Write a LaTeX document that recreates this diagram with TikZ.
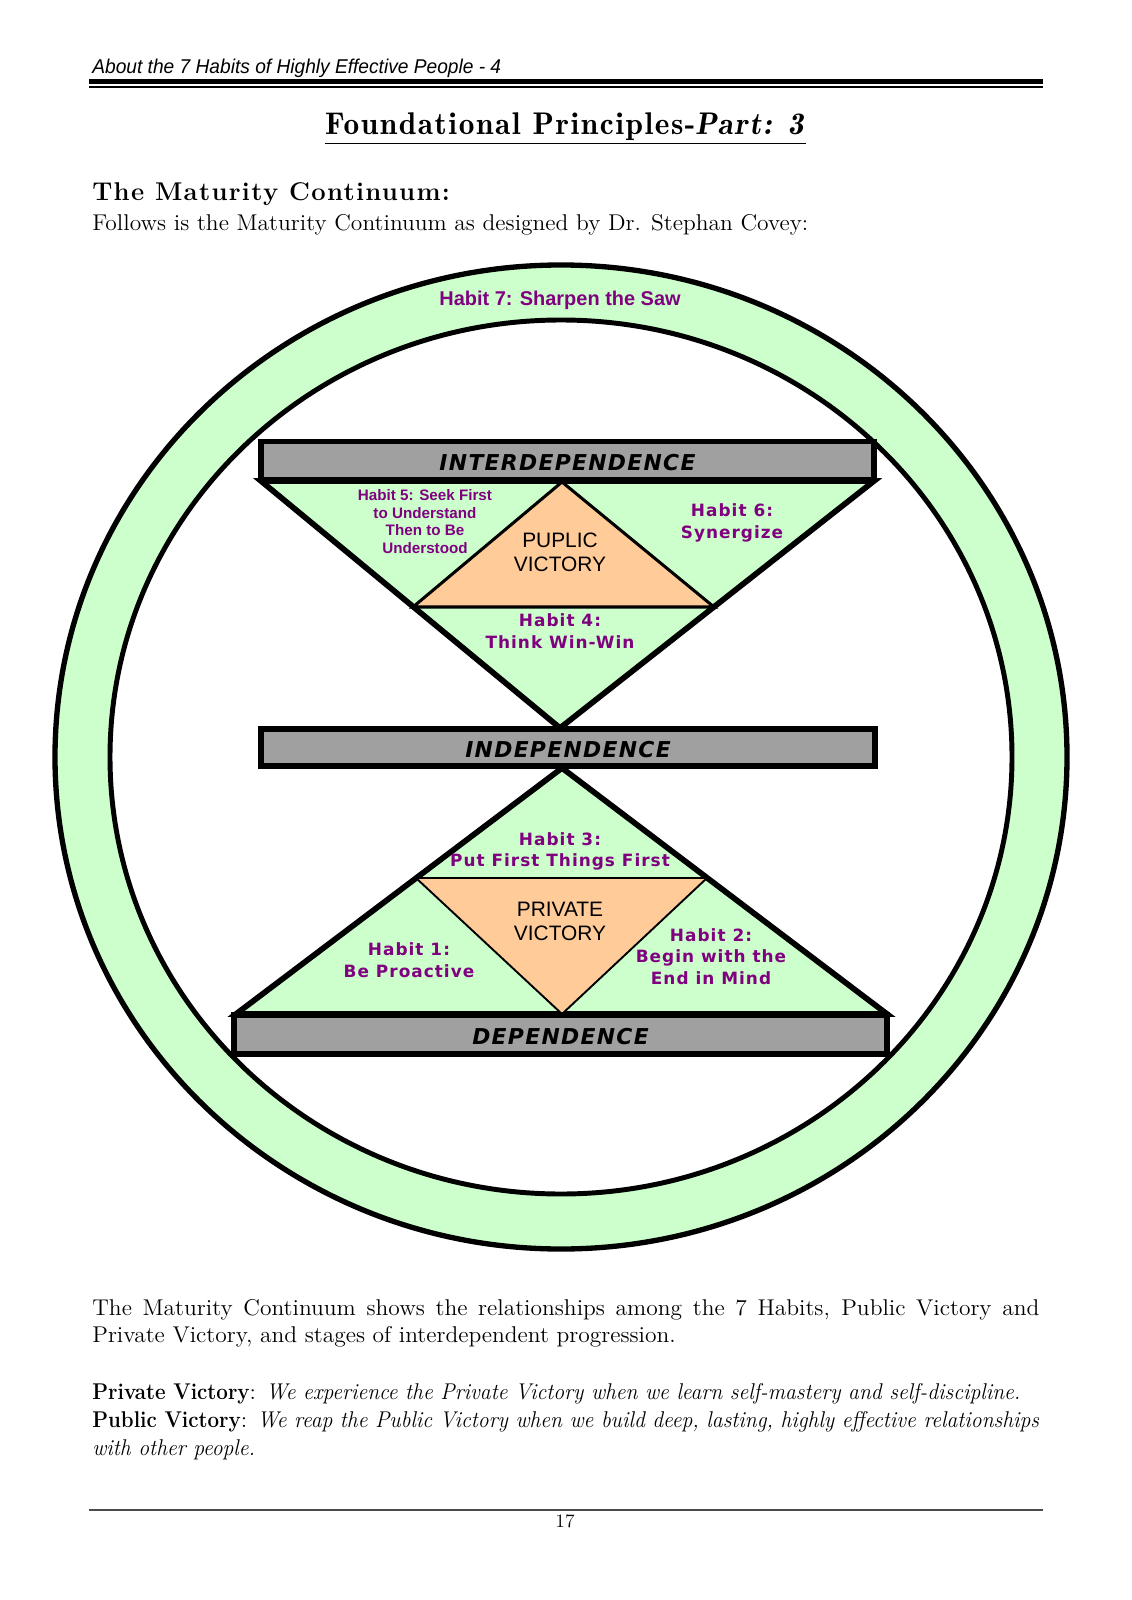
\documentclass[tikz,border=0pt]{standalone}
\usepackage{graphicx}
\usepackage{fontspec}
\setmainfont{lmroman12}[Extension=.otf, UprightFont=*-regular, BoldFont=*-bold, ItalicFont=*-italic, UprightFeatures={FakeStretch=1.03}, BoldFeatures={FakeStretch=0.9}, ItalicFeatures={FakeStretch=0.95}]
\newfontfamily\verdana{DejaVu Sans}[LetterSpace=6]
\newfontfamily\arial{Liberation Sans}
\newfontfamily\spacedserif{lmroman12}[Extension=.otf, UprightFont=*-regular, BoldFont=*-bold, ItalicFont=*-italic, LetterSpace=5]
\newfontfamily\titleserif{lmromandemi10}[Extension=.otf, UprightFont=*-regular, ItalicFont=*-oblique, LetterSpace=5]
\usetikzlibrary{positioning}
\definecolor{ringgreen}{HTML}{CCFFCC}
\definecolor{victoryorange}{HTML}{FFCC99}
\definecolor{bargray}{HTML}{A0A0A0}
\definecolor{habitpurple}{HTML}{800080}

\begin{document}
\begin{tikzpicture}[
  x=0.5263pt, y=-0.5263pt,
  bar/.style={draw, line width=3pt, fill=bargray, inner sep=0pt, text height=10.4pt, text depth=0pt, font=\verdana\bfseries\itshape\fontsize{11.5}{13}\selectfont},
  habit/.style={align=center, text=habitpurple, inner sep=0pt, font=\verdana\bfseries\fontsize{8.9}{11.3}\selectfont},
  smallhabit/.style={align=center, text=habitpurple, inner sep=0pt, font=\arial\bfseries\fontsize{8}{9.3}\selectfont},
  victory/.style={align=center, inner sep=0pt, font=\arial\fontsize{11}{12.6}\selectfont},
  pagetext/.style={anchor=base west, inner sep=0pt, font=\fontsize{12}{14.5}\selectfont},
  rim/.style={line width=3pt, line join=miter}
]
\useasboundingbox (0,0) rectangle (1131,1600);

\node[anchor=base west, inner sep=0pt] (runhead) at (92,73.5) {\scalebox{0.96}[1]{\arial\itshape\fontsize{10.5}{12}\selectfont About the 7 Habits of Highly Effective People - 4}};
\draw[line width=2.5pt] (89,81.5) -- (1043,81.5);
\draw[line width=0.8pt] (89,87) -- (1043,87);

\node[anchor=base, inner sep=0pt, font=\titleserif\fontsize{16.5}{19}\selectfont] (title) at (565.5,135) {\underline{Foundational Principles-\textit{Part: 3}}};
\node[anchor=base west, inner sep=0pt, font=\spacedserif\bfseries\fontsize{13.5}{15}\selectfont] (subhead) at (92,201) {The Maturity Continuum:};
\node[pagetext] (intro) at (92,231) {Follows is the Maturity Continuum as designed by Dr. Stephan Covey:};

\coordinate (ringc) at (561,757);
\fill[ringgreen, even odd rule] (ringc) ellipse [x radius=506, y radius=492] (ringc) ellipse [x radius=451, y radius=437];
\draw[line width=2.8pt] (ringc) ellipse [x radius=506, y radius=492];
\draw[line width=2.6pt] (ringc) ellipse [x radius=451, y radius=437];

\coordinate (T1) at (261,481);
\coordinate (T2) at (874,481);
\coordinate (TA) at (560,728);
\coordinate (PA) at (562,482);
\coordinate (PL) at (413,607);
\coordinate (PR) at (714,607);
\coordinate (BA) at (562,768);
\coordinate (BL) at (236,1014);
\coordinate (BR) at (887,1014);
\coordinate (QL) at (416,878);
\coordinate (QR) at (707,878);
\coordinate (QB) at (562,1014);

\filldraw[fill=ringgreen, rim] (T1) -- (T2) -- (TA) -- cycle;
\filldraw[fill=victoryorange, line width=1.6pt, line join=miter] (PA) -- (PR) -- (PL) -- cycle;
\filldraw[fill=ringgreen, rim] (BL) -- (BA) -- (BR) -- cycle;
\filldraw[fill=victoryorange, line width=1pt, line join=miter] (QL) -- (QR) -- (QB) -- cycle;

\node[bar, minimum width=322.6pt, minimum height=20pt] (interdep) at (567.5,460.5) {INTERDEPENDENCE};
\node[bar, minimum width=323pt, minimum height=19.5pt] (indep) at (568,747.5) {INDEPENDENCE};
\node[bar, minimum width=343.7pt, minimum height=20.5pt] (dep) at (560.5,1034.5) {DEPENDENCE};

\node[text=habitpurple, inner sep=0pt, font=\arial\bfseries\fontsize{10.5}{12}\selectfont] (habit7) at (560,300) {Habit 7: Sharpen the Saw};
\node[smallhabit] (habit5) at (425,521.5) {Habit 5: Seek First\\to Understand\\Then to Be\\Understood};
\node[habit] (habit6) at (732,523) {Habit 6:\\Synergize};
\node[habit] (habit4) at (560,631) {Habit 4:\\Think Win-Win};
\node[victory] (publicv) at (560,552) {PUPLIC\\VICTORY};
\node[habit] (habit3) at (560,851.5) {Habit 3:\\Put First Things First};
\node[victory] (privatev) at (560,921) {PRIVATE\\VICTORY};
\node[habit] (habit1) at (409,960) {Habit 1:\\Be Proactive};
\node[habit] (habit2) at (711,956.5) {Habit 2:\\Begin with the\\End in Mind};

\node[pagetext] (para1) at (92,1315) {\makebox[498.4pt][s]{The Maturity Continuum shows the relationships among the 7 Habits, Public Victory and}};
\node[pagetext] (para2) at (92,1342) {Private Victory, and stages of interdependent progression.};
\node[pagetext] (privdef) at (92,1399.5) {\textbf{Private Victory}: \textit{We experience the Private Victory when we learn self-mastery and self-discipline.}};
\node[pagetext] (pubdef) at (92,1427) {\makebox[498.4pt][s]{\textbf{Public Victory}: \textit{We reap the Public Victory when we build deep, lasting, highly effective relationships}}};
\node[pagetext] (pubdef2) at (92,1455) {\textit{with other people.}};

\draw[line width=0.6pt, black!70] (89,1510) -- (1043,1510);
\node[anchor=base, inner sep=0pt, font=\fontsize{10}{12}\selectfont] (pagenum) at (565,1527) {17};
\end{tikzpicture}
\end{document}
